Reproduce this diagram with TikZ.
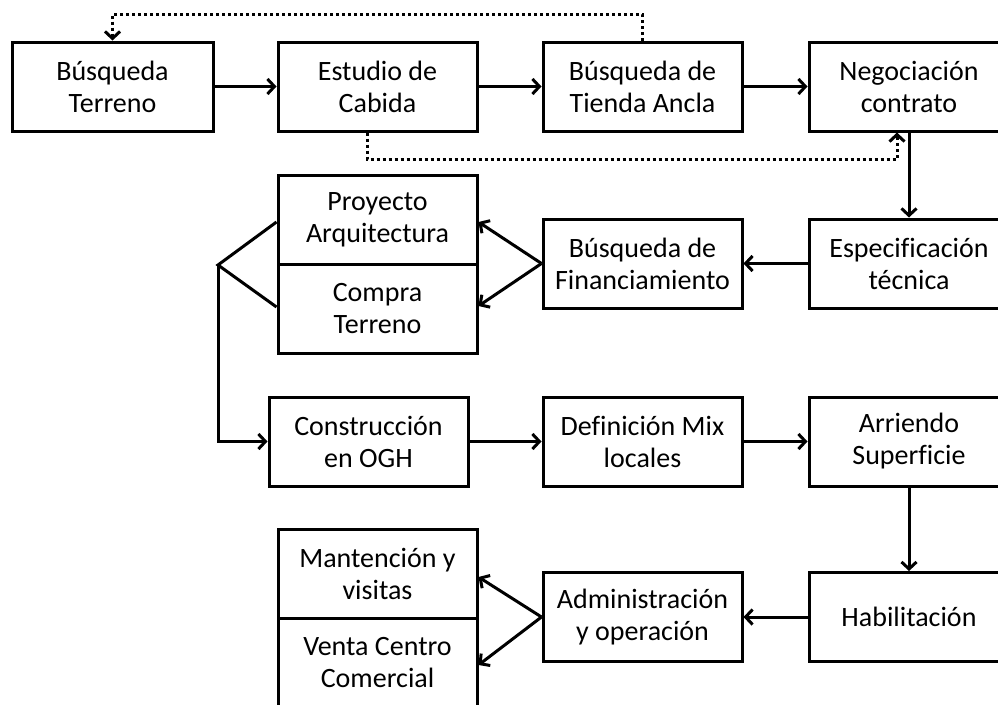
\documentclass[tikz,border=0pt]{standalone}
\usepackage{fontspec}
\setmainfont{Carlito}[Ligatures=NoCommon]
\usetikzlibrary{arrows.meta}

\begin{document}
\begin{tikzpicture}[x=1pt,y=-1pt,line width=3pt,
    paso/.style={draw,minimum width=199pt,minimum height=89pt,align=center,inner sep=0pt,font=\fontsize{28}{32}\selectfont},
    flecha/.style={-{Straight Barb[length=7pt,width=15pt]}},
    punteado/.style={dash pattern=on 3pt off 3pt}]
    \clip(0,0)rectangle(998,704);

    \node[paso,minimum width=201pt](bt)at(112.5,86.5){Búsqueda\\Terreno};
    \node[paso](ec)at(377.5,86.5){Estudio de\\Cabida};
    \node[paso](ta)at(642.5,86.5){Búsqueda de\\Tienda Ancla};
    \node[paso,minimum width=200pt](nc)at(909,86.5){Negociación\\contrato};

    \node[paso](pa)at(377.5,219.5){Proyecto\\Arquitectura};
    \node[paso](ct)at(377.5,308.5){Compra\\Terreno};
    \node[paso](bf)at(642.5,263.5){Búsqueda de\\Financiamiento};
    \node[paso,minimum width=200pt](es)at(909,263.5){Especificación\\técnica};

    \node[paso](co)at(368.5,441.5){Construcción\\en OGH};
    \node[paso](dm)at(642.5,441.5){Definición Mix\\locales};
    \node[paso,minimum width=200pt](ar)at(909,441.5){Arriendo\\Superficie};

    \node[paso](mv)at(377.5,573.5){Mantención y\\visitas};
    \node[paso](vc)at(377.5,662.5){Venta Centro\\Comercial};
    \node[paso](ad)at(642.5,617){Administración\\y operación};
    \node[paso,minimum width=200pt](hb)at(909,617){Habilitación};

    \coordinate(arriba)at(0,14);
    \coordinate(abajo)at(0,159);
    \coordinate(horq)at(218,265);

    \draw[flecha](bt.east)--(ec.west);
    \draw[flecha](ec.east)--(ta.west);
    \draw[flecha](ta.east)--(nc.west);
    \draw[flecha](nc.south)--(es.north);
    \draw[flecha](es.west)--(bf.east);
    \draw[flecha](bf.west)--([yshift=-2.5pt]pa.east);
    \draw[flecha](bf.west)--([yshift=2.5pt]ct.east);
    \draw([yshift=-2.5pt]pa.west)--(horq)--([yshift=1.5pt]ct.west);
    \draw[flecha](horq)|-(co.west);
    \draw[flecha](co.east)--(dm.west);
    \draw[flecha](dm.east)--(ar.west);
    \draw[flecha](ar.south)--(hb.north);
    \draw[flecha](hb.west)--(ad.east);
    \draw[flecha](ad.west)--([yshift=-3.5pt]mv.east);
    \draw[flecha](ad.west)--([yshift=-2.5pt]vc.east);

    \draw[flecha,punteado](ta.north)--(ta.north|-arriba)-|(bt.north);
    \draw[flecha,punteado]([xshift=-10.5pt]ec.south)--([xshift=-10.5pt]ec.south|-abajo)-|([xshift=-12pt]nc.south);
\end{tikzpicture}
\end{document}
